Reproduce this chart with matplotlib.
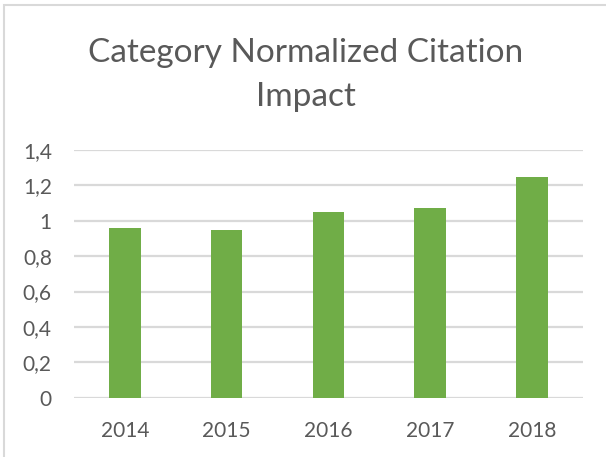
import matplotlib.pyplot as plt
from matplotlib.patches import Rectangle

years = ['2014', '2015', '2016', '2017', '2018']
cnci = [0.96, 0.95, 1.05, 1.07, 1.25]
yticks = [0, 0.2, 0.4, 0.6, 0.8, 1.0, 1.2, 1.4]
ylabels = ['0', '0,2', '0,4', '0,6', '0,8', '1', '1,2', '1,4']

txt = '#595959'
grid = '#d9d9d9'

plt.rcParams['font.family'] = ['Lato', 'DejaVu Sans']

fig = plt.figure(figsize=(6.06, 4.57), dpi=100)
ax = fig.add_axes([74 / 606, 59.3 / 457, 508.7 / 606, 247.7 / 457])

ax.bar(range(len(years)), cnci, width=0.31, color='#70ad47', zorder=3)
ax.set_xlim(-0.5, len(years) - 0.5)
ax.set_ylim(0, 1.4)
ax.set_yticks(yticks)
ax.set_yticklabels(ylabels)
ax.set_xticks(range(len(years)))
ax.set_xticklabels(years)
ax.tick_params(length=0, labelsize=15, colors=txt)
ax.tick_params(axis='y', pad=16)
ax.tick_params(axis='x', pad=17)
ax.yaxis.grid(True, color=grid, linewidth=1.6, zorder=0)
for s in ax.spines.values():
    s.set_visible(False)

fig.text(0.505, 1 - 62 / 457, 'Category Normalized Citation', ha='center',
         va='baseline', fontsize=24, color=txt)
fig.text(0.505, 1 - 106 / 457, 'Impact', ha='center', va='baseline',
         fontsize=24, color=txt)

# chart border (cropped on the right and bottom)
fig.patches.append(Rectangle((3.5 / 606, -0.1), 1.2, 1 - 4.5 / 457 + 0.1,
                             transform=fig.transFigure, fill=False,
                             edgecolor=grid, linewidth=1.5))

fig.savefig('out.png', dpi=100)
